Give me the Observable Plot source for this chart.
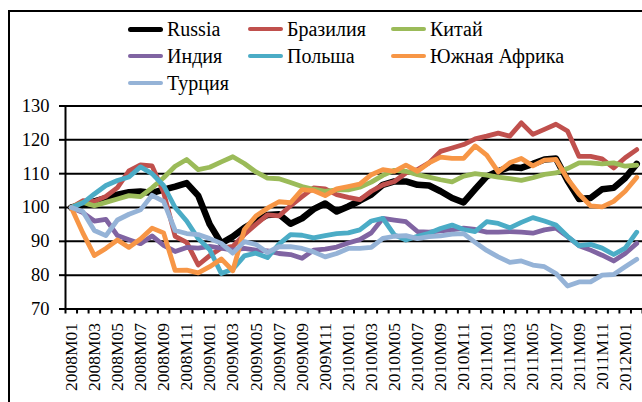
<!DOCTYPE html>
<html>
<head>
<meta charset="utf-8">
<script src="https://cdn.jsdelivr.net/npm/d3@7"></script>
<script src="https://cdn.jsdelivr.net/npm/@observablehq/plot@0.6"></script>
<style>
  html, body { margin: 0; padding: 0; background: #fff; overflow: hidden; }
  #wrap { position: relative; width: 642px; height: 402px; overflow: hidden; font-family: "Liberation Serif", serif; }
  #frame { position: absolute; left: 8px; top: 10px; width: 700px; height: 500px; border-left: 2px solid #000; border-top: 2px solid #000; box-sizing: border-box; }
  #chart { position: absolute; left: 0; top: 0; }
  .leg { position: absolute; display: flex; align-items: center; font-size: 20px; color: #000; white-space: nowrap; line-height: 1; }
  .leg .sw { display: inline-block; width: 35px; border-radius: 3px; margin-right: 4px; }
</style>
</head>
<body>
<div id="wrap">
  <div id="frame"></div>
  <div id="chart"></div>
</div>
<script>
const months = [
  "2008M01","2008M02","2008M03","2008M04","2008M05","2008M06","2008M07","2008M08","2008M09","2008M10","2008M11","2008M12",
  "2009M01","2009M02","2009M03","2009M04","2009M05","2009M06","2009M07","2009M08","2009M09","2009M10","2009M11","2009M12",
  "2010M01","2010M02","2010M03","2010M04","2010M05","2010M06","2010M07","2010M08","2010M09","2010M10","2010M11","2010M12",
  "2011M01","2011M02","2011M03","2011M04","2011M05","2011M06","2011M07","2011M08","2011M09","2011M10","2011M11","2011M12",
  "2012M01","2012M02"
];
const russia = [100,100.8,101.8,102.8,103.8,104.5,104.7,104.3,105.3,106.2,107.2,103.5,
  95,89.4,91.4,94,96,97.8,98,95.2,96.8,99.5,101.2,98.8,
  100.3,102,103.8,106.7,107.7,107.7,106.7,106.5,104.8,102.8,101.5,105.4,
  109.2,110.7,112,111.7,112.9,114.2,114.5,108,102.5,102.8,105.4,105.8,108.7,112.9];
const brazil = [100,102,101.8,103.3,105.9,110.8,112.6,112.3,104.5,91.5,89.7,83,
  85.8,88,88.5,92,95,97.8,97.5,100.5,103.2,105.8,105.5,103.8,
  103,102.3,104.8,106.7,107.7,110.2,111.2,113.2,116.6,117.6,118.6,120.3,
  121.1,122,121.1,125,121.6,123.1,124.6,122.6,115.1,115.1,114.4,111.7,114.7,117.1];
const china = [100,101.5,100.5,101.5,102.5,103.5,103.2,105.8,108.8,112.2,114.2,111.2,
  111.9,113.5,115,113,110.5,108.7,108.5,107.4,106.2,105.4,104.8,105.2,
  105.2,106,107.5,109.5,111,110.7,109.7,109,108.2,107.6,109.3,110,
  109.6,109,108.5,108,108.8,109.8,110.2,111.5,113.2,113.2,112.9,113.2,112.2,112.5];
const india = [100,98.5,96,96.5,91.7,90.5,89.3,91.6,88.8,87,88.2,88,
  88.5,88,87.4,87.9,87.4,87.2,86.4,86.1,85,87.4,87.7,88.3,
  89.5,90.5,92.5,96.8,96.3,95.8,92.9,92.7,93.1,93.4,93.9,93.5,
  92.7,92.7,92.9,92.7,92.4,93.4,93.9,91.4,88.7,87.4,85.9,84.2,86.4,89.4];
const poland = [100,101.3,104,106.5,108,109,112,110,106.5,100,96,90.8,
  87.5,80.5,81.8,85.7,86.5,85.2,89.2,92,91.8,91,91.7,92.3,
  92.5,93.4,96,96.8,91.9,90.4,91.5,92.4,93.8,94.8,93.5,92.9,
  95.8,95.3,94,95.6,97,96,94.8,91.5,88.7,89.1,88,86.1,88,92.7];
const southAfrica = [100,92.5,85.8,87.9,90.4,88.2,90.7,93.9,92.5,81.4,81.5,80.7,
  82.5,84.8,81.3,93.5,97.5,99.8,101.7,101.4,105.3,105,103.5,105.5,
  106.2,106.9,109.7,111.2,110.7,112.5,110.7,113.2,114.9,114.5,114.5,118.2,
  115.5,110.5,113.2,114.5,112.3,114,114.2,108.5,104,100.5,100.2,101.8,104.8,108.9];
const turkey = [100,98.8,93.2,91.7,96.3,98,99.3,103.6,101.8,93.2,92.3,92,
  90.8,89.4,86.5,89.9,89.1,86.7,88.4,88.4,87.9,86.9,85.4,86.4,
  87.9,87.9,88.2,90.9,91.5,91.7,90.8,91.4,91.6,92.1,92.3,89.7,
  87.3,85.4,83.8,84.2,83,82.5,80.5,76.8,78,78,80,80.2,82.5,84.7];

const seriesNames = ["Russia","Бразилия","Китай","Индия","Польша","Южная Африка","Турция"];
const seriesValues = [russia, brazil, china, india, poland, southAfrica, turkey];
const seriesColors = ["#000000","#C0504D","#9BBB59","#8064A2","#4BACC6","#F79646","#95B3D7"];
const yTicks = [70,80,90,100,110,120,130];

const rows = seriesNames.flatMap((s, k) => seriesValues[k].map((v, i) => ({series: s, i, value: v})));
const labelIdx = months.map((_, i) => i).filter(i => i % 2 === 0);
const edges = months.map((_, i) => i - 0.5).concat([months.length - 0.5]);

const chart = Plot.plot({
  width: 642,
  height: 402,
  marginLeft: 65,
  marginRight: 0,
  marginTop: 105.5,
  marginBottom: 93.5,
  style: {fontFamily: "Liberation Serif, serif", fontSize: "18px", background: "transparent", color: "#000", overflow: "visible"},
  x: {type: "linear", domain: [-0.5, months.length - 0.5]},
  y: {domain: [70, 130]},
  color: {domain: seriesNames, range: seriesColors},
  marks: [
    Plot.gridY(yTicks, {stroke: "#000", strokeOpacity: 1, strokeWidth: 2}),
    Plot.ruleX([-0.5], {stroke: "#000", strokeWidth: 2}),
    Plot.axisY(yTicks, {tickSize: 6, tickPadding: 10, strokeWidth: 2, fontSize: 18.5, label: null}),
    Plot.axisX(edges, {tickSize: 5, tickPadding: 0, strokeWidth: 2, tickFormat: () => "", label: null}),
    Plot.axisX(labelIdx, {tickSize: 0, tickPadding: 14, tickRotate: -90, tickFormat: i => months[i], fontSize: 17.5, label: null}),
    Plot.line(rows.filter(d => d.series === seriesNames[0]), {x: "i", y: "value", stroke: "series", strokeWidth: 6.5, strokeLinejoin: "round", strokeLinecap: "round"}),
    Plot.line(rows.filter(d => d.series !== seriesNames[0]), {x: "i", y: "value", z: "series", stroke: "series", strokeWidth: 4.8, strokeLinejoin: "round", strokeLinecap: "round"})
  ]
});
document.getElementById("chart").appendChild(chart);

// Legend (HTML, above the plot area)
const legendCols = [128, 248, 391];
const legendRows = [29, 56, 83];
const wrap = document.getElementById("wrap");
seriesNames.forEach((name, k) => {
  const item = document.createElement("div");
  item.className = "leg";
  item.style.left = legendCols[k % 3] + "px";
  item.style.top = (legendRows[Math.floor(k / 3)] - 10) + "px";
  item.style.height = "20px";
  const sw = document.createElement("span");
  sw.className = "sw";
  sw.style.background = seriesColors[k];
  sw.style.height = (k === 0 ? 5 : 4) + "px";
  const tx = document.createElement("span");
  tx.textContent = name;
  item.appendChild(sw);
  item.appendChild(tx);
  wrap.appendChild(item);
});
</script>
</body>
</html>
